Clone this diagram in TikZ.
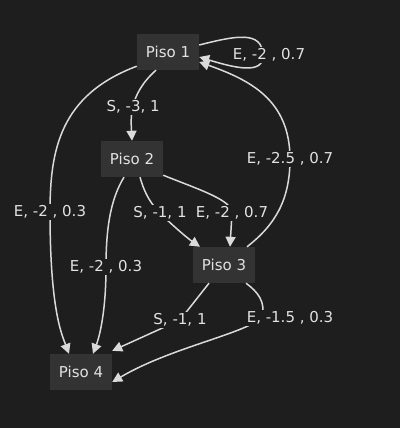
\documentclass[tikz,border=0pt]{standalone}
\usepackage{fontspec}
\setmainfont{DejaVu Sans}
\usetikzlibrary{arrows.meta}
\definecolor{fondo}{HTML}{1E1E1E}
\definecolor{caja}{HTML}{333333}
\definecolor{trazo}{HTML}{DADADA}
\definecolor{letra}{HTML}{E2E2E2}
\begin{document}
\begin{tikzpicture}[x=1pt,y=-1pt,
    piso/.style={fill=caja,text=letra,minimum width=62pt,minimum height=36pt,
      font=\fontsize{15}{17}\selectfont},
    flecha/.style={draw=trazo,line width=1.5pt,-{Triangle[length=10pt,width=10pt]}},
    etiq/.style={fill=fondo,text=letra,inner sep=2pt,font=\fontsize{15}{17}\selectfont}]
  \fill[fondo] (0,0) rectangle (400,428);
  \useasboundingbox (0,0) rectangle (400,428);

  \node[piso] (p1) at (168,52)  {Piso 1};
  \node[piso] (p2) at (132,159) {Piso 2};
  \node[piso] (p3) at (224,265) {Piso 3};
  \node[piso] (p4) at (81,372)  {Piso 4};

  % Piso 1
  \draw[flecha] ([yshift=7pt]p1.east) .. controls (235,36) and (262,30) .. (263,55)
    node[etiq,xshift=6pt] {E, -2 , 0.7} .. controls (264,75) and (235,68) .. ([yshift=-5pt]p1.east);
  \draw[flecha] ([xshift=-12pt]p1.south) .. controls (128,95) and (131,120)
    .. node[etiq] {S, -3, 1} (p2.north);
  \draw[flecha] ([yshift=4pt]p1.south west) .. controls (60,95) and (50,150) .. (50,212)
    node[etiq] {E, -2 , 0.3} .. controls (50,310) and (62,335) .. ([xshift=-12pt]p4.north);

  % Piso 2
  \draw[flecha] ([xshift=-8pt]p2.south) .. controls (110,200) and (106,230) .. (106,267)
    node[etiq] {E, -2 , 0.3} .. controls (106,310) and (100,335) .. ([xshift=12pt]p4.north);
  \draw[flecha] ([xshift=8pt]p2.south) .. controls (145,195) and (152,205) .. (160,213)
    node[etiq] {S, -1, 1} .. controls (175,228) and (190,240) .. ([xshift=-24pt]p3.north);
  \draw[flecha] ([yshift=2pt]p2.south east) .. controls (200,190) and (232,200) .. (232,213)
    node[etiq] {E, -2 , 0.7} -- ([xshift=6pt]p3.north);

  % Piso 3
  \draw[flecha] ([xshift=23pt]p3.north) .. controls (275,225) and (290,200) .. (290,159)
    node[etiq] {E, -2.5 , 0.7} .. controls (290,100) and (250,80) .. ([yshift=-10pt]p1.east);
  \draw[flecha] ([xshift=-15pt]p3.south) -- (180,320)
    node[etiq] {S, -1, 1} -- ([yshift=3pt]p4.north east);
  \draw[flecha] ([xshift=22pt]p3.south) .. controls (258,292) and (266,302) .. (262,318)
    node[etiq,xshift=28pt] {E, -1.5 , 0.3} .. controls (240,335) and (170,348) .. ([yshift=-10pt]p4.east);
\end{tikzpicture}
\end{document}
